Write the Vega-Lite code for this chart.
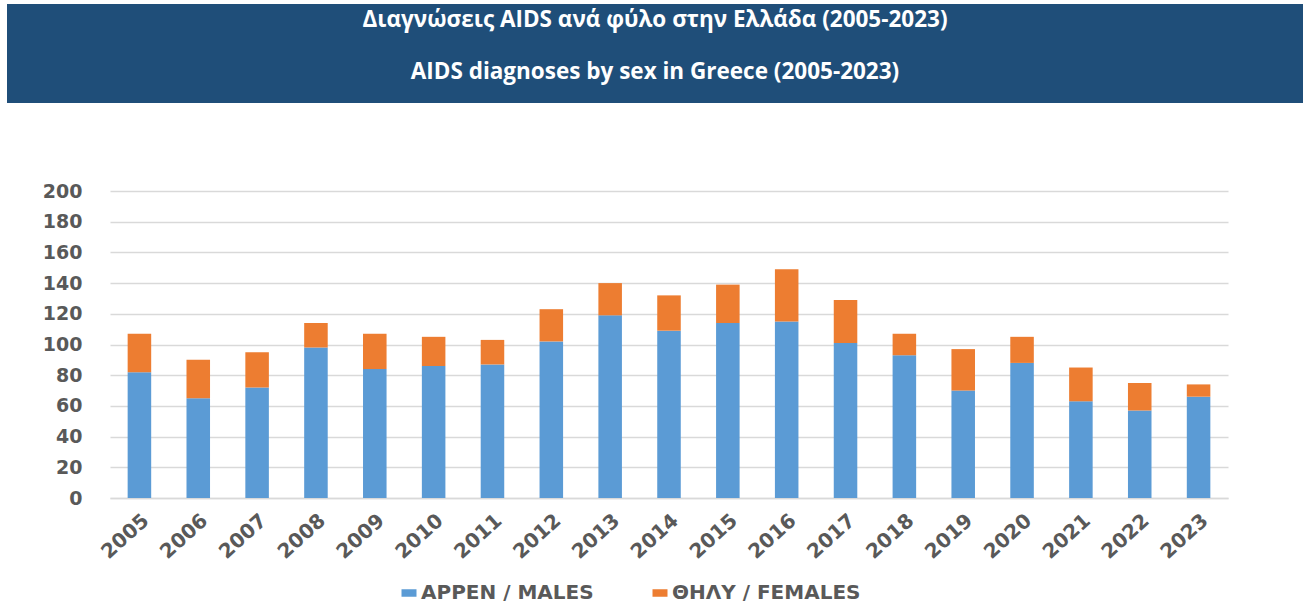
{
  "$schema": "https://vega.github.io/schema/vega-lite/v6.json",
  "padding": {"left": 7, "top": 4, "right": 0, "bottom": 0},
  "background": "white",
  "spacing": 79,
  "resolve": {"scale": {"color": "independent"}},
  "config": {"font": "DejaVu Sans"},
  "vconcat": [
    {
      "width": 1296,
      "height": 99,
      "view": {"fill": "#1F4E79", "stroke": null},
      "data": {"values": [
        {"line": 1, "text": "Διαγνώσεις AIDS ανά φύλο στην Ελλάδα (2005-2023)"},
        {"line": 2, "text": "AIDS diagnoses by sex in Greece (2005-2023)"}
      ]},
      "mark": {"type": "text", "font": "Open Sans", "fontWeight": "bold", "fontSize": 22.5, "color": "white", "baseline": "middle", "align": "center"},
      "encoding": {
        "y": {"field": "line", "type": "quantitative", "axis": null, "scale": {"domain": [0.69, 2.6], "reverse": true}},
        "text": {"field": "text", "type": "nominal"}
      }
    },
    {
      "spacing": 34,
      "resolve": {"scale": {"color": "independent"}},
      "hconcat": [
        {
          "width": 1,
          "height": 1,
          "view": {"stroke": null},
          "data": {"values": [{"spacer": 1}]},
          "mark": {"type": "point", "opacity": 0, "size": 0},
          "encoding": {}
        },
        {
          "width": 1118,
          "height": 307,
          "view": {"stroke": null},
          "data": {"values": [
            {"year": "2005", "sex": "ΑΡΡΕΝ / MALES", "count": 82}, {"year": "2005", "sex": "ΘΗΛΥ / FEMALES", "count": 25},
            {"year": "2006", "sex": "ΑΡΡΕΝ / MALES", "count": 65}, {"year": "2006", "sex": "ΘΗΛΥ / FEMALES", "count": 25},
            {"year": "2007", "sex": "ΑΡΡΕΝ / MALES", "count": 72}, {"year": "2007", "sex": "ΘΗΛΥ / FEMALES", "count": 23},
            {"year": "2008", "sex": "ΑΡΡΕΝ / MALES", "count": 98}, {"year": "2008", "sex": "ΘΗΛΥ / FEMALES", "count": 16},
            {"year": "2009", "sex": "ΑΡΡΕΝ / MALES", "count": 84}, {"year": "2009", "sex": "ΘΗΛΥ / FEMALES", "count": 23},
            {"year": "2010", "sex": "ΑΡΡΕΝ / MALES", "count": 86}, {"year": "2010", "sex": "ΘΗΛΥ / FEMALES", "count": 19},
            {"year": "2011", "sex": "ΑΡΡΕΝ / MALES", "count": 87}, {"year": "2011", "sex": "ΘΗΛΥ / FEMALES", "count": 16},
            {"year": "2012", "sex": "ΑΡΡΕΝ / MALES", "count": 102}, {"year": "2012", "sex": "ΘΗΛΥ / FEMALES", "count": 21},
            {"year": "2013", "sex": "ΑΡΡΕΝ / MALES", "count": 119}, {"year": "2013", "sex": "ΘΗΛΥ / FEMALES", "count": 21},
            {"year": "2014", "sex": "ΑΡΡΕΝ / MALES", "count": 109}, {"year": "2014", "sex": "ΘΗΛΥ / FEMALES", "count": 23},
            {"year": "2015", "sex": "ΑΡΡΕΝ / MALES", "count": 114}, {"year": "2015", "sex": "ΘΗΛΥ / FEMALES", "count": 25},
            {"year": "2016", "sex": "ΑΡΡΕΝ / MALES", "count": 115}, {"year": "2016", "sex": "ΘΗΛΥ / FEMALES", "count": 34},
            {"year": "2017", "sex": "ΑΡΡΕΝ / MALES", "count": 101}, {"year": "2017", "sex": "ΘΗΛΥ / FEMALES", "count": 28},
            {"year": "2018", "sex": "ΑΡΡΕΝ / MALES", "count": 93}, {"year": "2018", "sex": "ΘΗΛΥ / FEMALES", "count": 14},
            {"year": "2019", "sex": "ΑΡΡΕΝ / MALES", "count": 70}, {"year": "2019", "sex": "ΘΗΛΥ / FEMALES", "count": 27},
            {"year": "2020", "sex": "ΑΡΡΕΝ / MALES", "count": 88}, {"year": "2020", "sex": "ΘΗΛΥ / FEMALES", "count": 17},
            {"year": "2021", "sex": "ΑΡΡΕΝ / MALES", "count": 63}, {"year": "2021", "sex": "ΘΗΛΥ / FEMALES", "count": 22},
            {"year": "2022", "sex": "ΑΡΡΕΝ / MALES", "count": 57}, {"year": "2022", "sex": "ΘΗΛΥ / FEMALES", "count": 18},
            {"year": "2023", "sex": "ΑΡΡΕΝ / MALES", "count": 66}, {"year": "2023", "sex": "ΘΗΛΥ / FEMALES", "count": 8}
          ]},
          "mark": {"type": "bar"},
          "encoding": {
            "x": {
              "field": "year", "type": "ordinal",
              "scale": {"paddingInner": 0.6, "paddingOuter": 0.3},
              "axis": {
                "title": null, "labelAngle": -42, "labelFontSize": 20, "labelFontWeight": "bold", "labelColor": "#595959",
                "labelPadding": 12, "ticks": false, "domainColor": "#D9D9D9", "domainWidth": 1.5, "grid": false
              }
            },
            "y": {
              "field": "count", "type": "quantitative", "aggregate": "sum", "stack": "zero",
              "scale": {"domain": [0, 200], "nice": false},
              "axis": {
                "title": null,
                "values": [0, 20, 40, 60, 80, 100, 120, 140, 160, 180, 200],
                "labelFontSize": 19, "labelFontWeight": "bold", "labelColor": "#595959", "labelPadding": 28,
                "ticks": false, "tickSize": 0, "domain": false, "gridColor": "#D9D9D9", "gridWidth": 1.5
              }
            },
            "order": {"field": "sex", "sort": "ascending"},
            "color": {
              "field": "sex", "type": "nominal",
              "scale": {"domain": ["ΑΡΡΕΝ / MALES", "ΘΗΛΥ / FEMALES"], "range": ["#5B9BD5", "#ED7D31"]},
              "legend": {
                "title": null, "orient": "none", "direction": "horizontal", "legendX": 289, "legendY": 392,
                "symbolType": "M-1,-0.5H1V0.5H-1Z", "symbolSize": 225, "symbolStrokeWidth": 0,
                "labelFontSize": 20, "labelFontWeight": "bold", "labelColor": "#595959", "labelOffset": 2, "labelLimit": 400,
                "columnPadding": 56, "padding": 0
              }
            }
          }
        }
      ]
    }
  ]
}
